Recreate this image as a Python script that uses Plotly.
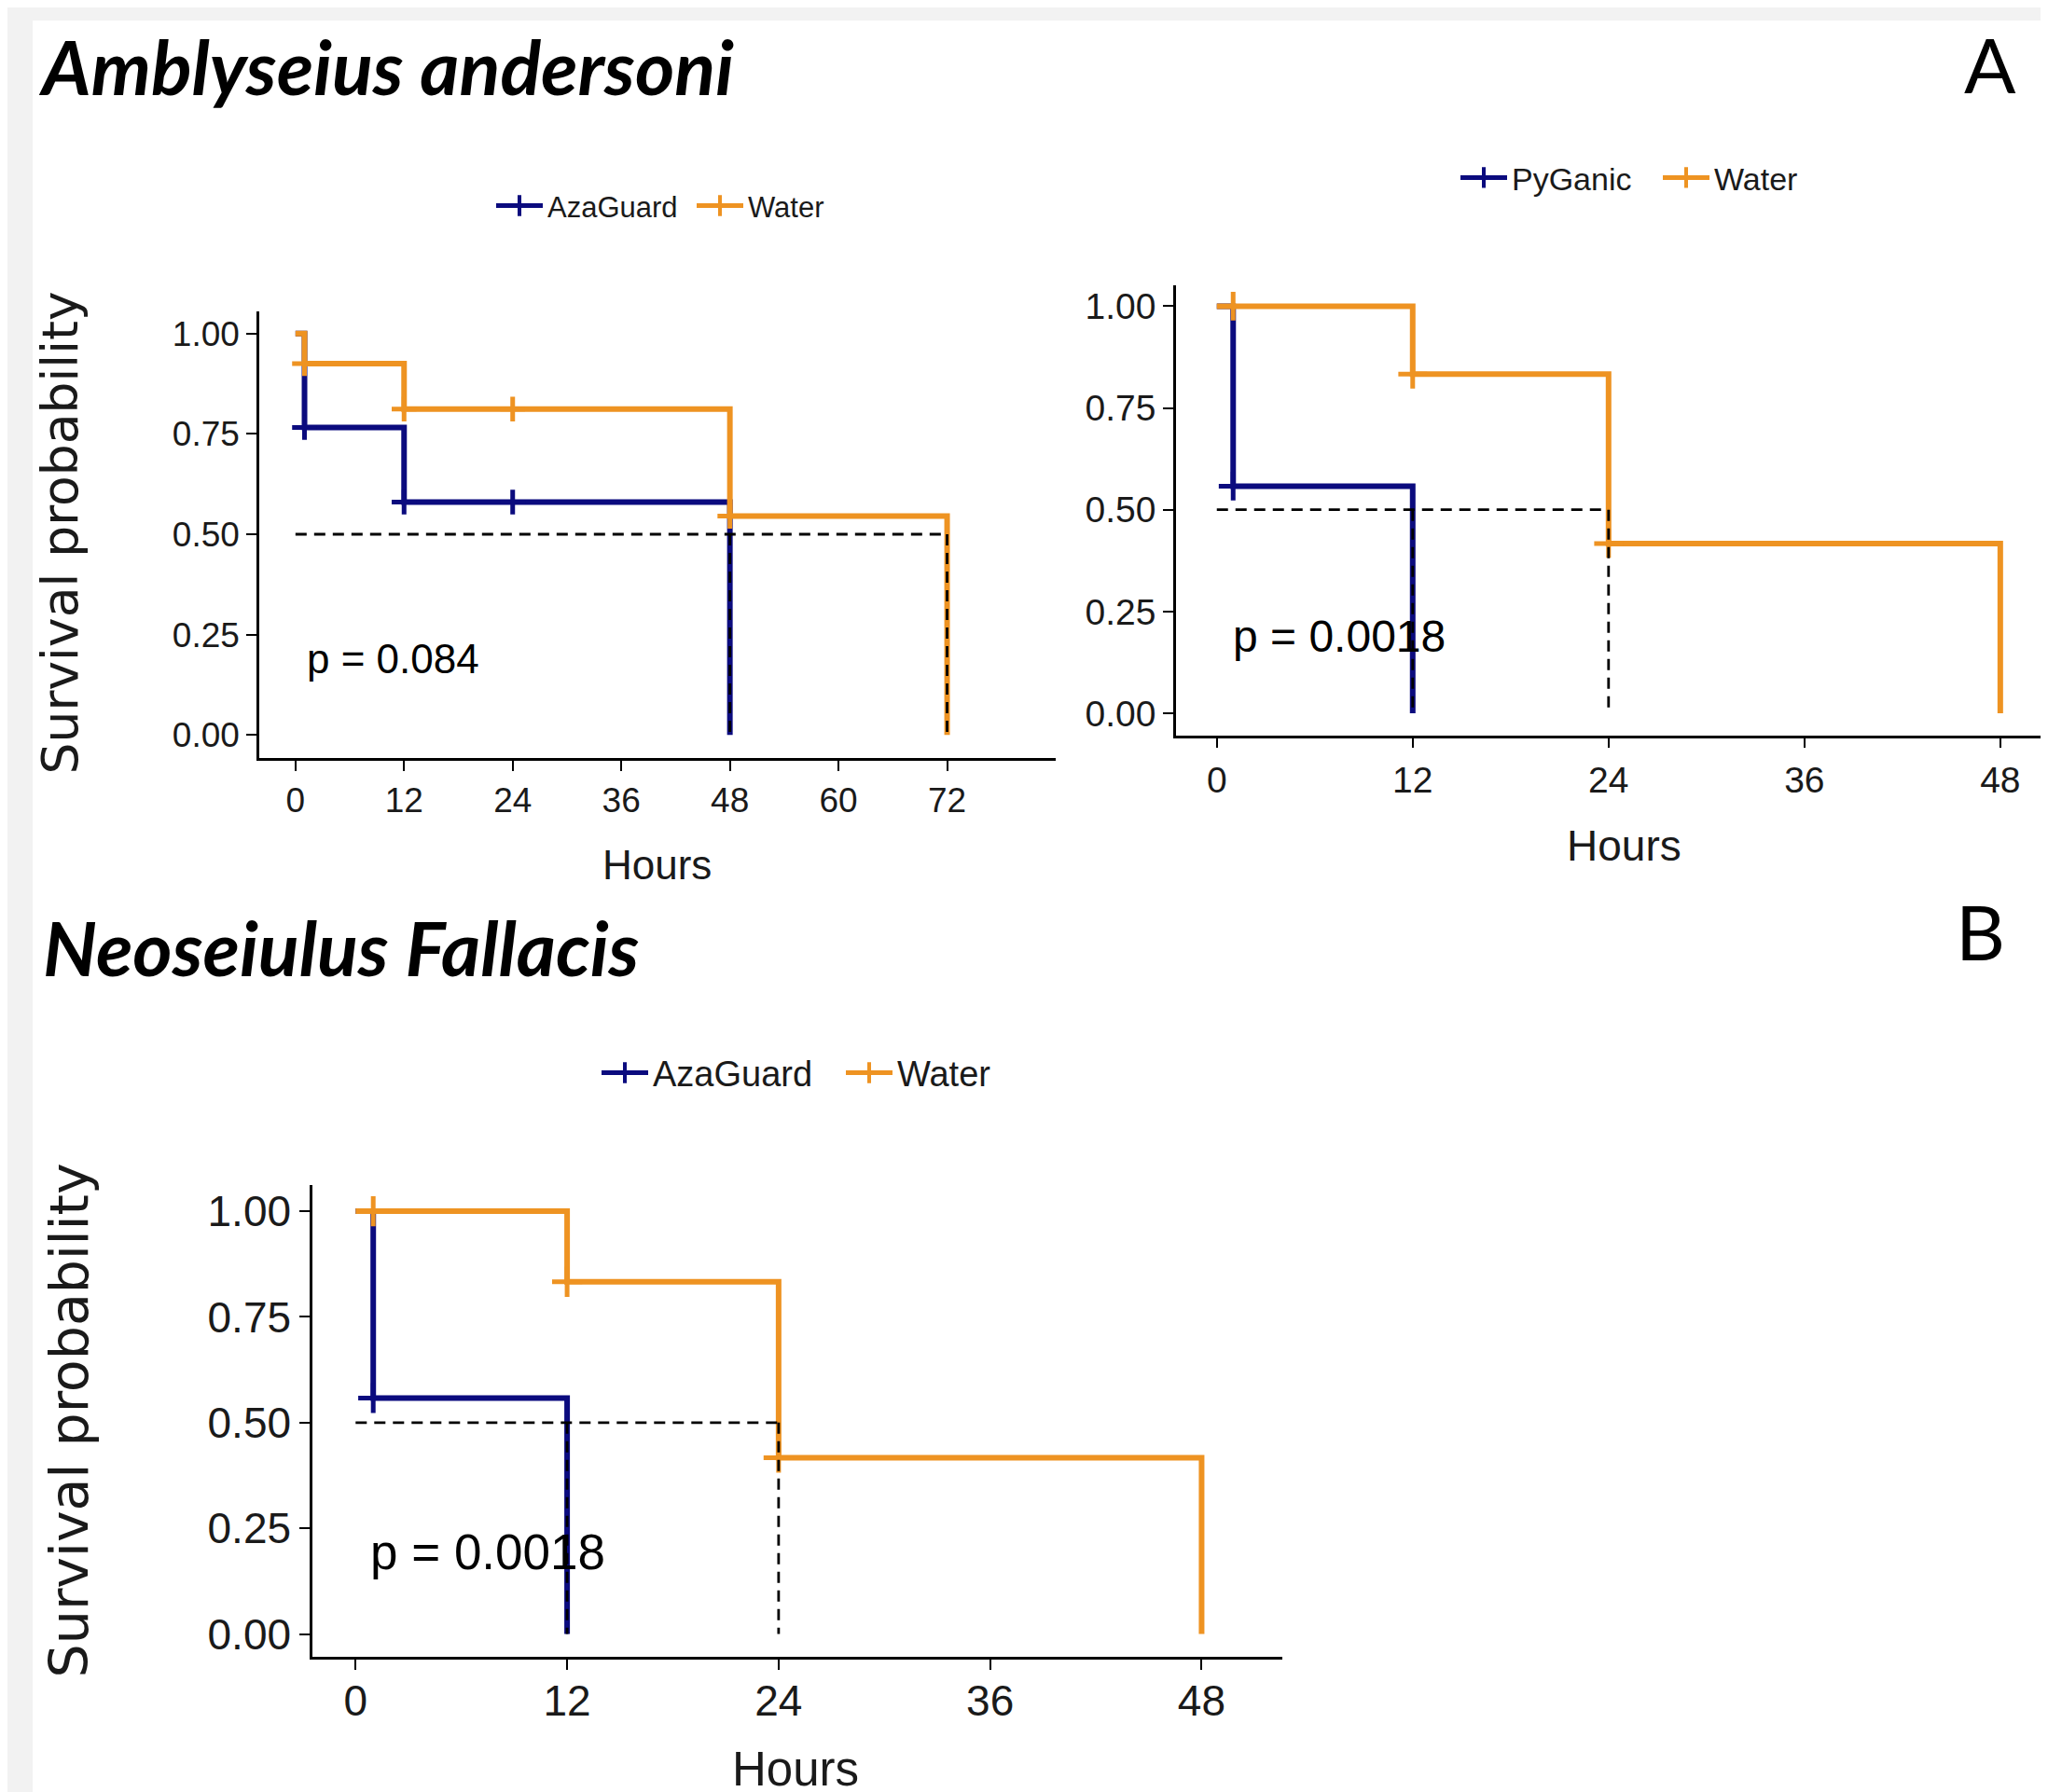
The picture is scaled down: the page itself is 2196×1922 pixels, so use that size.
import plotly.graph_objects as go

W, H = 2196, 1922

# ---------------- data ----------------
hour_ticks_a1 = [0, 12, 24, 36, 48, 60, 72]
hour_ticks_b = [0, 12, 24, 36, 48]
surv_ticks = [0, 0.25, 0.5, 0.75, 1.0]
surv_ticktext = ["0.00", "0.25", "0.50", "0.75", "1.00"]

# Panel A-left : Amblyseius andersoni, AzaGuard vs Water
a1_aza_time = [0, 1, 12, 48]
a1_aza_surv = [1.0, 0.766, 0.58, 0.0]
a1_aza_cens_time = [1, 12, 24]
a1_aza_cens_surv = [0.766, 0.58, 0.58]
a1_wat_time = [0, 1, 12, 48, 72]
a1_wat_surv = [1.0, 0.925, 0.812, 0.545, 0.0]
a1_wat_cens_time = [1, 12, 24, 48]
a1_wat_cens_surv = [0.925, 0.812, 0.812, 0.545]
a1_p = "p = 0.084"

# Panel A-right : Amblyseius andersoni, PyGanic vs Water
a2_pyg_time = [0, 1, 12]
a2_pyg_surv = [1.0, 0.558, 0.0]
a2_pyg_cens_time = [1]
a2_pyg_cens_surv = [0.558]
a2_wat_time = [0, 12, 24, 48]
a2_wat_surv = [1.0, 0.833, 0.417, 0.0]
a2_wat_cens_time = [1, 12, 24]
a2_wat_cens_surv = [1.0, 0.833, 0.417]
a2_p = "p = 0.0018"

# Panel B : Neoseiulus Fallacis, AzaGuard vs Water
b_aza_time = [0, 1, 12]
b_aza_surv = [1.0, 0.558, 0.0]
b_aza_cens_time = [1]
b_aza_cens_surv = [0.558]
b_wat_time = [0, 12, 24, 48]
b_wat_surv = [1.0, 0.833, 0.417, 0.0]
b_wat_cens_time = [1, 12, 24]
b_wat_cens_surv = [1.0, 0.833, 0.417]
b_p = "p = 0.0018"

# ---------------- style ----------------
NAVY = "#0b0b7e"
ORANGE = "#ee9322"
TXT = "#1a1a1a"
NARROW = "Liberation Sans Narrow, Arial Narrow, Liberation Sans, Arial, sans-serif"
WIDE = "DejaVu Sans, Verdana, sans-serif"
TITLEF = "Lato, Open Sans, Noto Sans, sans-serif"


def fx(p):
    return p / W


def fy(p):
    return 1 - p / H


def median(times, surv):
    for t, s in zip(times, surv):
        if s <= 0.5:
            return t
    return None


fig = go.Figure()

panels = [
    dict(ax="x", ay="y", leg="legend",
         curves=[("AzaGuard", NAVY, a1_aza_time, a1_aza_surv, a1_aza_cens_time, a1_aza_cens_surv),
                 ("Water", ORANGE, a1_wat_time, a1_wat_surv, a1_wat_cens_time, a1_wat_cens_surv)],
         msize=19),
    dict(ax="x2", ay="y2", leg="legend2",
         curves=[("PyGanic", NAVY, a2_pyg_time, a2_pyg_surv, a2_pyg_cens_time, a2_pyg_cens_surv),
                 ("Water", ORANGE, a2_wat_time, a2_wat_surv, a2_wat_cens_time, a2_wat_cens_surv)],
         msize=22),
    dict(ax="x3", ay="y3", leg="legend3",
         curves=[("AzaGuard", NAVY, b_aza_time, b_aza_surv, b_aza_cens_time, b_aza_cens_surv),
                 ("Water", ORANGE, b_wat_time, b_wat_surv, b_wat_cens_time, b_wat_cens_surv)],
         msize=23),
]

for pn in panels:
    meds = []
    for name, col, t, s, ct, cs in pn["curves"]:
        fig.add_trace(go.Scatter(x=t, y=s, mode="lines", line=dict(color=col, width=6, shape="hv"),
                                 showlegend=False, xaxis=pn["ax"], yaxis=pn["ay"], hoverinfo="skip"))
        fig.add_trace(go.Scatter(x=ct, y=cs, mode="markers",
                                 marker=dict(symbol="cross-thin", size=pn["msize"],
                                             line=dict(color=col, width=5)),
                                 showlegend=False, xaxis=pn["ax"], yaxis=pn["ay"], hoverinfo="skip"))
        meds.append(median(t, s))
    # median survival dashed lines
    mx = max(meds)
    dx, dy = [0, mx, None], [0.5, 0.5, None]
    for m in meds:
        dx += [m, m, None]
        dy += [0.5, 0, None]
    fig.add_trace(go.Scatter(x=dx, y=dy, mode="lines", line=dict(color="black", width=2.8, dash="12px,8px"),
                             showlegend=False, xaxis=pn["ax"], yaxis=pn["ay"], hoverinfo="skip"))
    # legend-only entries
    for name, col, *_ in pn["curves"]:
        fig.add_trace(go.Scatter(x=[None], y=[None], mode="lines+markers", name=name,
                                 line=dict(color=col, width=5),
                                 marker=dict(symbol="cross-thin", size=16, line=dict(color=col, width=4)),
                                 legend=pn["leg"], xaxis=pn["ax"], yaxis=pn["ay"]))


def xaxis(dom, rng, ticks, fs, so):
    return dict(domain=dom, range=rng, tickvals=ticks, ticktext=[str(v) for v in ticks],
                showline=True, linecolor="black", linewidth=2.5, ticks="outside", ticklen=11,
                tickwidth=2, tickcolor="black", showgrid=False, zeroline=False,
                tickfont=dict(family=NARROW, size=fs, color=TXT), ticklabelstandoff=so)


def yaxis(dom, rng, fs):
    return dict(domain=dom, range=rng, tickvals=surv_ticks, ticktext=surv_ticktext,
                showline=True, linecolor="black", linewidth=2.5, ticks="outside", ticklen=11,
                tickwidth=2, tickcolor="black", showgrid=False, zeroline=False,
                tickfont=dict(family=NARROW, size=fs, color=TXT), ticklabelstandoff=0)


layout = dict(
    width=W, height=H, margin=dict(l=0, r=0, t=0, b=0),
    paper_bgcolor="white", plot_bgcolor="rgba(0,0,0,0)",
    xaxis=xaxis([fx(270), fx(1124)], [-4, 84], hour_ticks_a1, 37, 0),
    yaxis=yaxis([fy(806), fy(326)], [-0.058, 1.056], 37),
    xaxis2=xaxis([fx(1253), fx(2196)], [-2.5, 51.38], hour_ticks_b, 39, 1),
    yaxis2=yaxis([fy(781.4), fy(298.7)], [-0.054, 1.0505], 39),
    xaxis3=xaxis([fx(327), fx(1367)], [-2.45, 52.58], hour_ticks_b, 46, -6),
    yaxis3=yaxis([fy(1770.9), fy(1264.7)], [-0.054, 1.061], 46),
)
layout["xaxis2"]["anchor"] = "y2"
layout["yaxis2"]["anchor"] = "x2"
layout["xaxis3"]["anchor"] = "y3"
layout["yaxis3"]["anchor"] = "x3"

leg_common = dict(orientation="h", xanchor="left", yanchor="middle", bgcolor="rgba(0,0,0,0)",
                  itemwidth=50, entrywidthmode="pixels")
layout["legend"] = dict(leg_common, x=fx(519), y=fy(213), entrywidth=150,
                        font=dict(family=NARROW, size=31, color=TXT))
layout["legend2"] = dict(leg_common, x=fx(1553), y=fy(183), entrywidth=152,
                         font=dict(family=NARROW, size=34, color=TXT))
layout["legend3"] = dict(leg_common, x=fx(632), y=fy(1144), entrywidth=197,
                         font=dict(family=NARROW, size=38, color=TXT))

fig.update_layout(**layout)

# background bands (page framing)
fig.add_shape(type="rect", xref="paper", yref="paper", x0=0, x1=1, y0=fy(14), y1=1,
              fillcolor="#f2f2f2", line_width=0, layer="below")
fig.add_shape(type="rect", xref="paper", yref="paper", x0=0, x1=fx(27), y0=0, y1=1,
              fillcolor="#f2f2f2", line_width=0, layer="below")

ann = []
# panel titles and letters
ann.append(dict(text="<b><i>Amblyseius andersoni</i></b>", x=fx(31), y=fy(63), xanchor="left", yanchor="middle",
                font=dict(family=TITLEF, size=81, color="black")))
ann.append(dict(text="<b><i>Neoseiulus Fallacis</i></b>", x=fx(36), y=fy(1009), xanchor="left", yanchor="middle",
                font=dict(family=TITLEF, size=81, color="black")))
ann.append(dict(text="A", x=fx(2126), y=fy(60), xanchor="center", yanchor="middle",
                font=dict(family=TITLEF, size=82, color="black")))
ann.append(dict(text="B", x=fx(2115), y=fy(991), xanchor="center", yanchor="middle",
                font=dict(family=TITLEF, size=82, color="black")))
# axis titles
ann.append(dict(text="Survival probability", x=fx(56), y=fy(564), textangle=-90, xanchor="center",
                yanchor="middle", font=dict(family=WIDE, size=53.5, color=TXT)))
ann.append(dict(text="Survival probability", x=fx(66), y=fy(1517), textangle=-90, xanchor="center",
                yanchor="middle", font=dict(family=WIDE, size=57, color=TXT)))
ann.append(dict(text="Hours", x=fx(696), y=fy(920), xanchor="center", yanchor="middle",
                font=dict(family=NARROW, size=44, color=TXT)))
ann.append(dict(text="Hours", x=fx(1733), y=fy(900), xanchor="center", yanchor="middle",
                font=dict(family=NARROW, size=46, color=TXT)))
ann.append(dict(text="Hours", x=fx(845), y=fy(1891), xanchor="center", yanchor="middle",
                font=dict(family=NARROW, size=51, color=TXT)))
# p-values (data coordinates)
ann.append(dict(text=a1_p, x=1.09, y=0.19, xref="x", yref="y", xanchor="left", yanchor="middle",
                font=dict(family=NARROW, size=44, color="black")))
ann.append(dict(text=a2_p, x=0.87, y=0.19, xref="x2", yref="y2", xanchor="left", yanchor="middle",
                font=dict(family=NARROW, size=48, color="black")))
ann.append(dict(text=b_p, x=0.73, y=0.195, xref="x3", yref="y3", xanchor="left", yanchor="middle",
                font=dict(family=NARROW, size=53, color="black")))
for a in ann:
    a.setdefault("xref", "paper")
    a.setdefault("yref", "paper")
    a["showarrow"] = False
fig.update_layout(annotations=ann)

fig.write_html("out.html")
